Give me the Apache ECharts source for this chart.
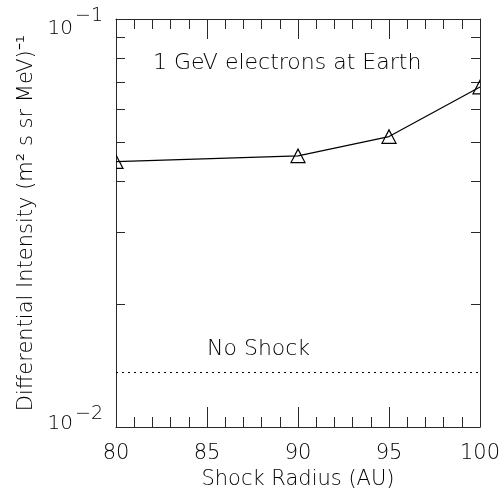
<!DOCTYPE html>
<html>
<head>
<meta charset="utf-8">
<script src="https://cdn.jsdelivr.net/npm/echarts@6/dist/echarts.min.js"></script>
<style>
  html, body { margin: 0; padding: 0; background: #fff; }
  #chart { width: 504px; height: 490px; }
</style>
</head>
<body>
<div id="chart"></div>
<script>
// Shock radius (AU) and the computed 1 GeV electron intensity at Earth
const shockRadius = [80, 90, 95, 100];
const intensity = [0.0447, 0.0462, 0.0515, 0.0681];
// Reference level without a termination shock
const noShockRadius = [80, 100];
const noShockLevel = [0.0136, 0.0136];
// Axis ticks
const xTicks = [80, 85, 90, 95, 100];
const yMajor = [0.01, 0.1];
const yMinor = [0.02, 0.03, 0.04, 0.05, 0.06, 0.07, 0.08, 0.09];

const FONT = 'DejaVu Sans';
const WEIGHT = 200;
const INK = '#000';
const AXIS = '#2a2a2a';

const chart = echarts.init(document.getElementById('chart'), null, { renderer: 'canvas' });

const txt = (size) => ({ fontFamily: FONT, fontWeight: WEIGHT, fontSize: size, color: INK });

const xCommon = {
  type: 'value',
  min: xTicks[0],
  max: xTicks[xTicks.length - 1],
  interval: xTicks[1] - xTicks[0],
  axisLine: { show: true, onZero: false, lineStyle: { color: AXIS, width: 1 } },
  axisTick: { show: true, inside: true, length: 20, lineStyle: { color: AXIS } },
  minorTick: { show: true, splitNumber: 5, length: 10, lineStyle: { color: AXIS } },
  splitLine: { show: false },
  minorSplitLine: { show: false }
};

const yCommon = {
  type: 'log',
  logBase: 10,
  min: yMajor[0],
  max: yMajor[1],
  axisLine: { show: true, onZero: false, lineStyle: { color: AXIS, width: 1 } },
  axisTick: { show: true, inside: true, length: 9, customValues: yMinor, lineStyle: { color: AXIS } },
  splitLine: { show: false }
};

chart.setOption({
  animation: false,
  backgroundColor: '#fff',
  grid: { left: 116, right: 24, top: 19, bottom: 63, containLabel: false, outerBoundsMode: 'none' },
  xAxis: [
    Object.assign({}, xCommon, {
      position: 'bottom',
      name: 'Shock Radius (AU)',
      nameLocation: 'middle',
      nameGap: 40,
      nameTextStyle: txt(21),
      axisLabel: Object.assign({ show: true, margin: 16, customValues: xTicks }, txt(21))
    }),
    Object.assign({}, xCommon, { position: 'top', axisLabel: { show: false } })
  ],
  yAxis: [
    Object.assign({}, yCommon, {
      position: 'left',
      name: 'Differential Intensity (m\u00B2 s sr MeV)\u207B\u00B9',
      nameLocation: 'middle',
      nameGap: 76,
      nameTextStyle: txt(21),
      axisLabel: Object.assign({
        show: true,
        margin: 13,
        customValues: yMajor,
        formatter: function (v) {
          const exp = Math.round(Math.log10(v));
          const key = exp === -1 ? 'top' : 'bot';
          return '{' + key + 'B|10}{' + key + 'S|\u2212' + (-exp) + '}';
        },
        rich: {
          topB: Object.assign({ padding: [20, 0, 0, 0] }, txt(20)),
          topS: Object.assign({ padding: [0, 0, 6, 2] }, txt(19)),
          botB: Object.assign({ padding: [0, 0, 6, 0] }, txt(20)),
          botS: Object.assign({ padding: [0, 0, 26, 2] }, txt(19))
        }
      }, txt(20))
    }),
    Object.assign({}, yCommon, { position: 'right', axisLabel: { show: false } })
  ],
  graphic: [
    {
      type: 'text', left: 153, top: 52, silent: true,
      style: { text: '1 GeV electrons at Earth', fontFamily: FONT, fontWeight: WEIGHT, fontSize: 22, fill: INK }
    },
    {
      type: 'text', left: 207, top: 338, silent: true,
      style: { text: 'No Shock', fontFamily: FONT, fontWeight: WEIGHT, fontSize: 22, fill: INK }
    }
  ],
  series: [
    {
      name: 'No Shock',
      type: 'line',
      xAxisIndex: 0, yAxisIndex: 0,
      data: noShockRadius.map((x, i) => [x, noShockLevel[i]]),
      symbol: 'none',
      lineStyle: { color: '#000', width: 1, type: [2, 4] },
      silent: true
    },
    {
      name: 'Intensity',
      type: 'line',
      xAxisIndex: 0, yAxisIndex: 0,
      data: shockRadius.map((x, i) => [x, intensity[i]]),
      symbol: 'none',
      lineStyle: { color: '#000', width: 1.2 },
      silent: true
    },
    {
      name: 'Intensity markers',
      type: 'custom',
      xAxisIndex: 0, yAxisIndex: 0,
      clip: true,
      data: shockRadius.map((x, i) => [x, intensity[i]]),
      renderItem: function (params, api) {
        const p = api.coord([api.value(0), api.value(1)]);
        const hw = 7, hh = 6.7;
        return {
          type: 'polygon',
          shape: { points: [[p[0], p[1] - hh], [p[0] + hw, p[1] + hh], [p[0] - hw, p[1] + hh]] },
          style: { fill: 'none', stroke: '#000', lineWidth: 1.2 }
        };
      },
      silent: true
    }
  ]
});
</script>
</body>
</html>
